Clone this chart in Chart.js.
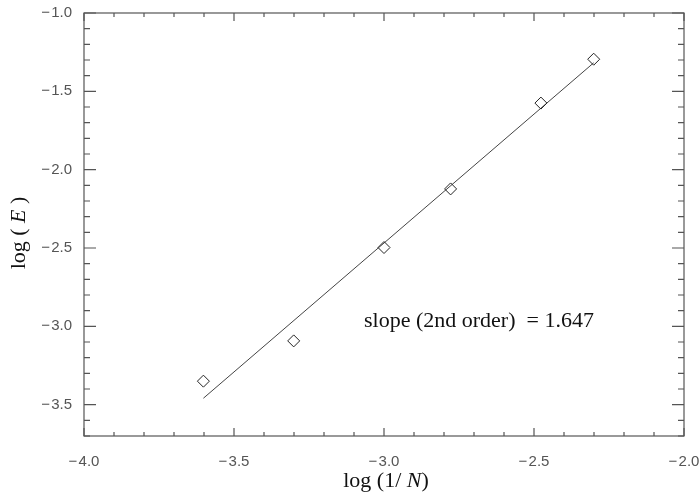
<!DOCTYPE html>
<html>
<head>
<meta charset="utf-8">
<script src="https://cdn.jsdelivr.net/npm/chart.js@4.4.1/dist/chart.umd.min.js"></script>
<style>
  html, body { margin: 0; padding: 0; background: #fff; }
  #wrap { width: 699px; height: 498px; }
</style>
</head>
<body>
<div id="wrap"><canvas id="errChart"></canvas></div>
<script>
// measured errors, log10(1/N) vs log10(E)
const logInvN = [-3.602, -3.301, -3.0, -2.778, -2.477, -2.301];
const logErr = [-3.35, -3.093, -2.497, -2.123, -1.575, -1.295];

// least squares fit line end points
const fitX = [-3.602, -2.301];
const fitY = [-3.459, -1.318];

const xTicks = [-4.0, -3.5, -3.0, -2.5, -2.0];
const yTicks = [-3.5, -3.0, -2.5, -2.0, -1.5, -1.0];

const slopeText = 'slope (2nd order)  = 1.647';
const serif = '22px "Liberation Serif", "Times New Roman", serif';

function fmt(v) {
    return v < 0 ? '\u2212\u200A' + Math.abs(v).toFixed(1) : v.toFixed(1);
}

function mixedWidth(ctx, parts) {
    let w = 0;
    parts.forEach(p => {
        ctx.font = (p.italic ? 'italic ' : '') + serif;
        w += ctx.measureText(p.t).width;
    });
    return w;
}

function drawMixed(ctx, parts, x, y) {
    let cx = x;
    parts.forEach(p => {
        ctx.font = (p.italic ? 'italic ' : '') + serif;
        ctx.fillText(p.t, cx, y);
        cx += ctx.measureText(p.t).width;
    });
}

// box, inward ticks, titles and the slope note
const framePlugin = {
    id: 'frame',
    afterDraw(chart) {
        const ctx = chart.ctx;
        const a = chart.chartArea;
        const xs = chart.scales.x, ys = chart.scales.y;
        ctx.save();
        ctx.strokeStyle = '#555';
        ctx.lineWidth = 1.2;
        ctx.strokeRect(a.left, a.top, a.right - a.left, a.bottom - a.top);

        ctx.beginPath();
        for (let i = 0; i <= 20; i++) {
            const px = xs.getPixelForValue(-4.0 + i * 0.1);
            const len = (i % 5 === 0) ? 8 : 4;
            ctx.moveTo(px, a.bottom); ctx.lineTo(px, a.bottom - len);
            ctx.moveTo(px, a.top); ctx.lineTo(px, a.top + len);
        }
        for (let i = 0; i <= 27; i++) {
            const v = -3.7 + i * 0.1;
            const py = ys.getPixelForValue(v);
            const major = Math.abs(v * 2 - Math.round(v * 2)) < 1e-6;
            const len = major ? 12 : 6;
            ctx.moveTo(a.left, py); ctx.lineTo(a.left + len, py);
            ctx.moveTo(a.right, py); ctx.lineTo(a.right - len, py);
        }
        ctx.stroke();

        ctx.fillStyle = '#111';
        ctx.textBaseline = 'alphabetic';
        ctx.textAlign = 'left';
        const xParts = [{t: 'log (1/ '}, {t: 'N', italic: true}, {t: ')'}];
        const xw = mixedWidth(ctx, xParts);
        drawMixed(ctx, xParts, (a.left + a.right) / 2 - xw / 2 + 2, 487);

        const yParts = [{t: 'log ( '}, {t: 'E', italic: true}, {t: ' )'}];
        const yw = mixedWidth(ctx, yParts);
        ctx.save();
        ctx.translate(25, 233);
        ctx.rotate(-Math.PI / 2);
        drawMixed(ctx, yParts, -yw / 2, 0);
        ctx.restore();

        ctx.font = serif;
        ctx.fillText(slopeText, 364, 327);
        ctx.restore();
    }
};

new Chart(document.getElementById('errChart'), {
    type: 'scatter',
    data: {
        datasets: [{
            label: 'error',
            data: logInvN.map((x, i) => ({x: x, y: logErr[i]})),
            pointStyle: 'rectRot',
            radius: 6,
            borderColor: '#222',
            borderWidth: 1,
            backgroundColor: 'rgba(0,0,0,0)'
        }, {
            label: 'fit',
            data: fitX.map((x, i) => ({x: x, y: fitY[i]})),
            showLine: true,
            pointRadius: 0,
            borderColor: '#444',
            borderWidth: 1
        }]
    },
    options: {
        responsive: true,
        maintainAspectRatio: false,
        animation: false,
        events: [],
        layout: { padding: { left: 0, right: 0, top: 12, bottom: 0 } },
        plugins: {
            legend: { display: false },
            tooltip: { enabled: false }
        },
        scales: {
            x: {
                type: 'linear',
                min: -4.0,
                max: -2.0,
                afterBuildTicks: s => { s.ticks = xTicks.map(v => ({value: v})); },
                afterFit: s => { s.height = 62; s.paddingRight = 15; },
                grid: { display: false },
                border: { display: false },
                ticks: {
                    padding: 9,
                    color: '#555',
                    font: { family: '"Liberation Sans", Arial, sans-serif', size: 15 },
                    callback: v => fmt(v)
                }
            },
            y: {
                type: 'linear',
                min: -3.7,
                max: -1.0,
                afterBuildTicks: s => { s.ticks = yTicks.map(v => ({value: v})); },
                afterFit: s => { s.width = 84; },
                grid: { display: false },
                border: { display: false },
                ticks: {
                    padding: 4,
                    color: '#555',
                    font: { family: '"Liberation Sans", Arial, sans-serif', size: 15 },
                    callback: v => fmt(v)
                }
            }
        }
    },
    plugins: [framePlugin]
});
</script>
</body>
</html>
